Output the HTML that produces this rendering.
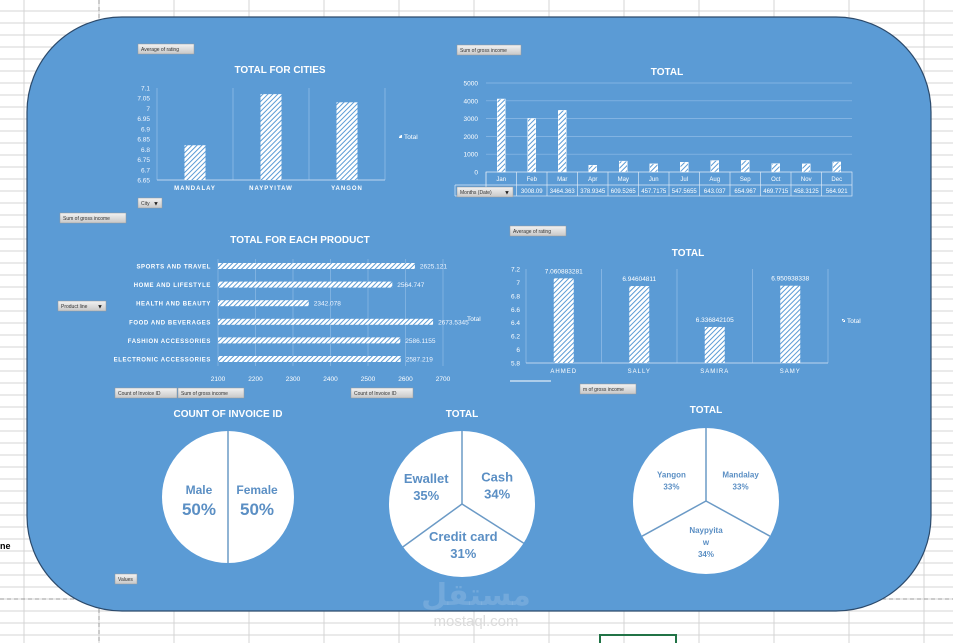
<!DOCTYPE html>
<html><head><meta charset="utf-8">
<style>
html,body{margin:0;padding:0;background:#fff;}
body{width:953px;height:643px;overflow:hidden;position:relative;font-family:"Liberation Sans",sans-serif;}
svg{position:absolute;left:0;top:0;}
</style></head>
<body>
<svg id="s" width="953" height="643" viewBox="0 0 953 643">
<defs>
<pattern id="hatch" patternUnits="userSpaceOnUse" width="3.5" height="3.5" patternTransform="rotate(45)">
<rect width="3.5" height="3.5" fill="#fff"/><rect width="1" height="3.5" fill="#5b9bd5"/>
</pattern>
<linearGradient id="btn" x1="0" y1="0" x2="0" y2="1"><stop offset="0" stop-color="#f2f2f2"/><stop offset="1" stop-color="#c8c8c8"/></linearGradient>
</defs>
<g id="grid"></g>
<rect x="27" y="17" width="904" height="594" rx="95" ry="95" fill="#5b9bd5" stroke="#2c4a6b" stroke-width="1.2"/>
<g id="g" font-family="Liberation Sans, sans-serif"></g>
<text x="0" y="549" font-size="9" font-weight="bold" fill="#000">ne</text>
<rect x="600" y="635" width="76" height="12" fill="none" stroke="#217346" stroke-width="2"/>
<text x="476" y="605" font-size="30" font-weight="bold" fill="#fff" fill-opacity="0.15" text-anchor="middle" font-family="DejaVu Sans, sans-serif">مستقل</text>
<text x="476" y="626" font-size="15" fill="#dcdcdc" text-anchor="middle">mostaql.com</text>
</svg>
<script>
// ---- data ----
const cityCats=["MANDALAY","NAYPYITAW","YANGON"];
const cityVals=[6.82,7.07,7.03];
const cityTicks=[6.65,6.7,6.75,6.8,6.85,6.9,6.95,7,7.05,7.1];
const monthCats=["Jan","Feb","Mar","Apr","May","Jun","Jul","Aug","Sep","Oct","Nov","Dec"];
const monthVals=[4100.56,3008.09,3464.363,378.9345,609.5265,457.7175,547.5655,643.037,654.967,469.7715,458.3125,564.921];
const monthLabels=["4100.56","3008.09","3464.363","378.9345","609.5265","457.7175","547.5655","643.037","654.967","469.7715","458.3125","564.921"];
const monthTicks=[0,1000,2000,3000,4000,5000];
const prodCats=["SPORTS AND TRAVEL","HOME AND LIFESTYLE","HEALTH AND BEAUTY","FOOD AND BEVERAGES","FASHION ACCESSORIES","ELECTRONIC ACCESSORIES"];
const prodVals=[2625.121,2564.747,2342.078,2673.5345,2586.1155,2587.219];
const prodLabels=["2625.121","2564.747","2342.078","2673.5345","2586.1155","2587.219"];
const prodTicks=[2100,2200,2300,2400,2500,2600,2700];
const repCats=["AHMED","SALLY","SAMIRA","SAMY"];
const repVals=[7.060883281,6.94604811,6.336842105,6.950938338];
const repTicks=[5.8,6,6.2,6.4,6.6,6.8,7,7.2];
const genderCats=["Female","Male"];
const genderVals=[50,50];
const payCats=["Cash","Credit card","Ewallet"];
const payVals=[34,31,35];
const cityPieCats=["Mandalay","Naypyitaw","Yangon"];
const cityPieVals=[33,34,33];

const NS="http://www.w3.org/2000/svg";
const G=document.getElementById('g');
function el(tag,attrs,parent,txt){const e=document.createElementNS(NS,tag);for(const k in attrs)e.setAttribute(k,attrs[k]);if(txt!==undefined)e.textContent=txt;(parent||G).appendChild(e);return e;}
function txt(x,y,s,size,opt,parent){opt=opt||{};return el('text',{x:x,y:y,'font-size':size,fill:opt.fill||'#fff','text-anchor':opt.anchor||'start','font-weight':opt.bold?'bold':'normal','letter-spacing':opt.ls||0},parent,s);}

// spreadsheet grid
const grid=document.getElementById('grid');
for(let y=11;y<643;y+=12){const l=el('line',{x1:0,y1:y,x2:953,y2:y,stroke:'#d4d4d4','stroke-width':1},grid);}
for(let x=24;x<953;x+=75){const l=el('line',{x1:x,y1:0,x2:x,y2:643,stroke:'#d4d4d4','stroke-width':1},grid);}
el('line',{x1:99,y1:0,x2:99,y2:643,stroke:'#999','stroke-dasharray':'4,3'},grid);
el('line',{x1:0,y1:599,x2:953,y2:599,stroke:'#999','stroke-dasharray':'4,3'},grid);

// buttons
function button(x,y,w,label,dd,name){const g=el('g',{});
 el('rect',{x:x,y:y,width:w,height:10,fill:'url(#btn)',stroke:'#9a9a9a','stroke-width':0.5},g);
 el('text',{x:x+3,y:y+7,'font-size':5,fill:'#333'},g,label);
 if(dd)el('text',{x:x+w-9,y:y+7.5,'font-size':6,fill:'#222'},g,'▼');}
button(138,44,56,"Average of rating",false,'rating-field-button');
button(457,45,64,"Sum of gross income",false,'gross-income-field-button');
button(138,198,24,"City",true,'city-filter-button');
button(60,213,66,"Sum of gross income",false,'gross-income-field-button-2');
button(510,226,56,"Average of rating",false,'rating-field-button-2');
button(58,301,48,"Product line",true,'product-line-filter-button');
button(115,388,62,"Count of Invoice ID",false,'invoice-count-button');
button(178,388,66,"Sum of gross income",false,'gross-income-field-button-3');
button(351,388,62,"Count of Invoice ID",false,'invoice-count-button-2');
button(580,384,56,"m of gross income",false,'gross-income-field-button-4');
button(115,574,22,"Values",false,'values-button');
el('line',{x1:510,y1:381,x2:551,y2:381,stroke:'#fff','stroke-width':1});

// ---- chart 1: cities ----
(function(){const x0=157,x1=385,yb=180,yt=88,mn=6.65,mx=7.1;const ys=v=>yb-(v-mn)/(mx-mn)*(yb-yt);const bw=(x1-x0)/cityCats.length;
 const t=txt(280,73,"TOTAL FOR CITIES",10,{anchor:'middle',bold:1});
 cityTicks.forEach(v=>{const l=txt(150,ys(v)+2.5,String(v),6.5,{anchor:'end',fill:'#f0f6ff'});});
 for(let i=0;i<=cityCats.length;i++)el('line',{x1:x0+i*bw,y1:yt,x2:x0+i*bw,y2:yb,stroke:'#8fbbe6','stroke-width':0.8});
 el('line',{x1:x0,y1:yb,x2:x1,y2:yb,stroke:'#bcd6f0','stroke-width':1});
 cityCats.forEach((c,i)=>{const cx=x0+bw*(i+0.5);const r=el('rect',{x:cx-10.5,y:ys(cityVals[i]),width:21,height:yb-ys(cityVals[i]),fill:'url(#hatch)'});
  const l=txt(cx,190,c,6,{anchor:'middle',bold:1,ls:1});});
 el('rect',{x:399,y:135,width:3,height:3,fill:'url(#hatch)'});
 const lg=txt(404,139,"Total",6.5);})();

// ---- chart 2: months ----
(function(){const x0=486,x1=852,yb=172,yt=83,mx=5000;const ys=v=>yb-v/mx*(yb-yt);const cw=(x1-x0)/monthCats.length;
 const t=txt(667,75,"TOTAL",10,{anchor:'middle',bold:1});
 monthTicks.forEach(v=>{el('line',{x1:x0,y1:ys(v),x2:x1,y2:ys(v),stroke:'#8fbbe6','stroke-width':0.7});const l=txt(478,ys(v)+2.5,String(v),6.5,{anchor:'end'});});
 el('rect',{x:x0,y:yb,width:x1-x0,height:24,fill:'none',stroke:'#dbe9f7','stroke-width':0.7});
 el('line',{x1:455,y1:185,x2:x1,y2:185,stroke:'#dbe9f7','stroke-width':0.7});
 el('line',{x1:455,y1:185,x2:455,y2:196,stroke:'#dbe9f7','stroke-width':0.7});
 el('line',{x1:455,y1:196,x2:x0,y2:196,stroke:'#dbe9f7','stroke-width':0.7});
 monthCats.forEach((m,i)=>{const cx=x0+cw*(i+0.5);const h=yb-ys(monthVals[i]);
  const r=el('rect',{x:cx-4,y:ys(monthVals[i]),width:8,height:h,fill:'url(#hatch)',stroke:'#fff','stroke-width':0.5});
  el('line',{x1:x0+cw*i,y1:yb,x2:x0+cw*i,y2:yb+24,stroke:'#dbe9f7','stroke-width':0.7});
  const l=txt(cx,181,m,6,{anchor:'middle'});
  const v=txt(cx,193,monthLabels[i],6,{anchor:'middle'});});
 button(457,187,56,"Months (Date)",true,'months-filter-button');})();

// ---- chart 3: products ----
(function(){const x0=218,mn=2100,mx=2700,x1=443,ys0=266,dy=18.6;const xs=v=>x0+(v-mn)/(mx-mn)*(x1-x0);
 const t=txt(300,243,"TOTAL FOR EACH PRODUCT",10,{anchor:'middle',bold:1});
 prodTicks.forEach(v=>{el('line',{x1:xs(v),y1:259,x2:xs(v),y2:366,stroke:'#8fbbe6','stroke-width':0.7});const l=txt(xs(v),381,String(v),6.5,{anchor:'middle'});});
 prodCats.forEach((c,i)=>{const y=ys0+i*dy;const r=el('rect',{x:x0,y:y-3,width:xs(prodVals[i])-x0,height:6,fill:'url(#hatch)'});
  const l=txt(211,y+2.5,c,6,{anchor:'end',bold:1,ls:0.6});
  const v=txt(xs(prodVals[i])+5,y+2.5,prodLabels[i],6.5,{fill:'#f0f6ff'});});
 const lg=txt(467,321,"Total",6.5);})();

// ---- chart 4: sales reps ----
(function(){const x0=526,x1=828,yb=363,yt=269,mn=5.8,mx=7.2;const ys=v=>yb-(v-mn)/(mx-mn)*(yb-yt);const bw=(x1-x0)/repCats.length;
 const t=txt(688,256,"TOTAL",10,{anchor:'middle',bold:1});
 repTicks.forEach(v=>{const l=txt(520,ys(v)+2.5,String(v),6.5,{anchor:'end'});});
 for(let i=0;i<=repCats.length;i++)el('line',{x1:x0+i*bw,y1:yt,x2:x0+i*bw,y2:yb,stroke:'#8fbbe6','stroke-width':0.8});
 el('line',{x1:x0,y1:yb,x2:x1,y2:yb,stroke:'#bcd6f0','stroke-width':1});
 repCats.forEach((c,i)=>{const cx=x0+bw*(i+0.5);const r=el('rect',{x:cx-10,y:ys(repVals[i]),width:20,height:yb-ys(repVals[i]),fill:'url(#hatch)'});
  const v=txt(cx,ys(repVals[i])-5,String(repVals[i]),6.5,{anchor:'middle'});
  const l=txt(cx,373,c,6,{anchor:'middle',ls:1});});
 el('rect',{x:842,y:319,width:3,height:3,fill:'url(#hatch)'});
 const lg=txt(847,323,"Total",6.5);})();

// ---- pies ----
function pie(cx,cy,r,cats,vals,title,ty,fs,pname,labelR){
 const t=txt(cx,ty,title,10,{anchor:'middle',bold:1});
 const c=el('circle',{cx:cx,cy:cy,r:r,fill:'#fff'});
 const tot=vals.reduce((a,b)=>a+b,0);let a=0;
 vals.forEach((v,i)=>{const ang=a*2*Math.PI;el('line',{x1:cx,y1:cy,x2:cx+r*Math.sin(ang),y2:cy-r*Math.cos(ang),stroke:'#6b9ac6','stroke-width':1.5});
  const mid=(a+v/tot/2)*2*Math.PI;const lx=cx+r*labelR*Math.sin(mid),ly=cy-r*labelR*Math.cos(mid);
  const g=el('g',{});
  const pct=Math.round(v/tot*100)+'%';
  if(cats[i]==="Naypyitaw"){txt(lx,ly-8,"Naypyita",fs[0],{anchor:'middle',bold:1,fill:'#5b8fc4'},g);txt(lx,ly+4,"w",fs[0],{anchor:'middle',bold:1,fill:'#5b8fc4'},g);txt(lx,ly+16,pct,fs[0],{anchor:'middle',bold:1,fill:'#5b8fc4'},g);}
  else{txt(lx,ly-3,cats[i],fs[0],{anchor:'middle',bold:1,fill:'#5b8fc4'},g);txt(lx,ly+fs[1]+1,pct,fs[1],{anchor:'middle',bold:1,fill:'#5b8fc4'},g);}
  a+=v/tot;});
}
pie(228,497,66,genderCats,genderVals,"COUNT OF INVOICE ID",417,[12,17],'gender-pie',0.44);
pie(462,504,73,payCats,payVals,"TOTAL",417,[13,13],'payment-pie',0.55);
pie(706,501,73,cityPieCats,cityPieVals,"TOTAL",413,[8,8],'city-pie',0.55);
</script>
</body></html>
